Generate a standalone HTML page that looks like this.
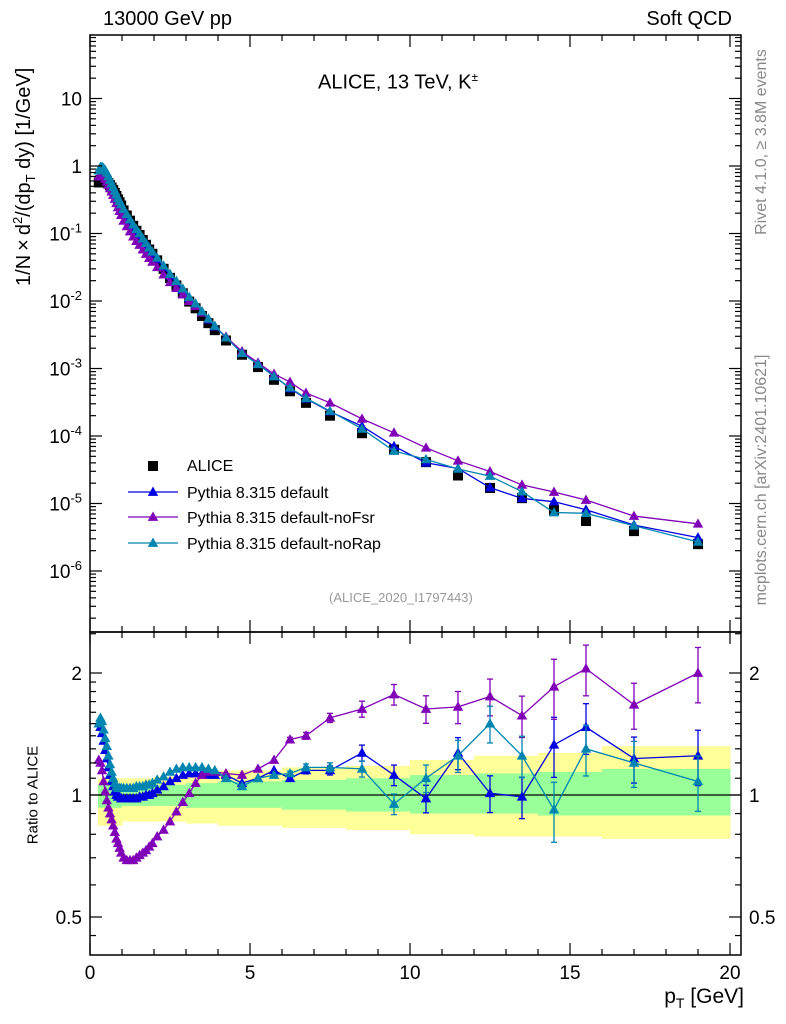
<!DOCTYPE html>
<html><head><meta charset="utf-8"><style>
body{margin:0;background:#fff}
svg{display:block;font-family:"Liberation Sans",sans-serif}
</style></head><body>
<svg id="c" width="786" height="1024" viewBox="0 0 786 1024" xmlns="http://www.w3.org/2000/svg"></svg>
<script>
const pts=[0.275,0.325,0.375,0.425,0.475,0.525,0.575,0.625,0.675,0.725,0.775,0.825,0.875,0.925,0.975,1.05,1.15,1.25,1.35,1.45,1.55,1.65,1.75,1.85,1.95,2.1,2.3,2.5,2.7,2.9,3.1,3.3,3.5,3.7,3.9,4.25,4.75,5.25,5.75,6.25,6.75,7.5,8.5,9.5,10.5,11.5,12.5,13.5,14.5,15.5,17,19];
const alice=[0.57,0.62,0.64,0.64,0.63,0.6,0.56,0.52,0.48,0.44,0.4,0.36,0.32,0.29,0.26,0.22,0.185,0.155,0.13,0.11,0.095,0.08,0.068,0.058,0.05,0.04,0.03,0.022,0.017,0.013,0.0098,0.0078,0.006,0.0047,0.0037,0.0026,0.0016,0.00105,0.00068,0.00046,0.00031,0.0002,0.00011,6.3e-5,4.1e-5,2.6e-5,1.7e-5,1.2e-5,8e-6,5.5e-6,3.9e-6,2.5e-6];
const rDefault=[1.5,1.47,1.42,1.36,1.29,1.23,1.17,1.12,1.08,1.05,1.02,1.0,0.99,0.99,0.98,0.98,0.98,0.98,0.98,0.98,0.99,0.99,1.0,1.0,1.01,1.03,1.05,1.08,1.1,1.12,1.13,1.13,1.13,1.12,1.12,1.12,1.07,1.1,1.15,1.1,1.15,1.15,1.27,1.12,0.98,1.27,1.01,0.99,1.33,1.47,1.23,1.25];
const rNoFsr=[1.22,1.2,1.15,1.08,1.02,0.97,0.93,0.9,0.87,0.84,0.81,0.78,0.76,0.74,0.72,0.7,0.69,0.69,0.69,0.7,0.71,0.72,0.73,0.745,0.76,0.79,0.82,0.86,0.91,0.96,1.01,1.07,1.12,1.14,1.14,1.13,1.12,1.16,1.22,1.37,1.4,1.55,1.63,1.77,1.63,1.65,1.75,1.57,1.85,2.05,1.67,2.0];
const rNoRap=[1.5,1.55,1.52,1.45,1.38,1.32,1.25,1.19,1.14,1.1,1.07,1.05,1.04,1.04,1.04,1.04,1.04,1.04,1.04,1.05,1.05,1.05,1.06,1.06,1.07,1.09,1.11,1.14,1.16,1.17,1.17,1.17,1.17,1.16,1.15,1.1,1.05,1.1,1.12,1.13,1.17,1.17,1.16,0.95,1.1,1.25,1.5,1.25,0.92,1.3,1.2,1.08];
const relErr=[0,0,0,0,0,0,0,0,0,0,0,0,0,0,0,0,0,0,0,0,0,0,0,0,0,0,0,0,0,0,0,0,0,0,0,0,0,0,0,0.01,0.015,0.02,0.035,0.045,0.06,0.07,0.08,0.09,0.13,0.11,0.1,0.12];
const bandEdges=[0.25,1,2,3,4,6,8,10,12,14,16,20];
const greenHi=[1.06,1.05,1.06,1.07,1.08,1.09,1.1,1.12,1.13,1.14,1.16];
const greenLo=[0.93,0.94,0.94,0.93,0.93,0.92,0.91,0.9,0.9,0.89,0.89];
const yellowHi=[1.1,1.1,1.11,1.13,1.15,1.17,1.18,1.22,1.25,1.27,1.32];
const yellowLo=[0.84,0.86,0.86,0.85,0.84,0.83,0.82,0.8,0.79,0.79,0.78];
const xTicks=[0,5,10,15,20];
const yTicks=[10,1,0.1,0.01,0.001,1e-4,1e-5,1e-6];
const yTickLabels=["10","1","10^-1","10^-2","10^-3","10^-4","10^-5","10^-6"];
const rTicks=[0.5,1,2];
const rTickLabels=["0.5","1","2"];

const S=document.getElementById('c');const NS='http://www.w3.org/2000/svg';
function el(t,a,p){const e=document.createElementNS(NS,t);for(const k in a)e.setAttribute(k,a[k]);(p||S).appendChild(e);return e;}
const L=90,R=741,T=35,M=632,B=955;
const X=v=>90+32*v;
const Y=v=>166-67.5*Math.log10(v);
const RY=v=>795-122*Math.log2(v);

const gB=el('g',{});

for(let i=0;i<bandEdges.length-1;i++){
 const x1=X(bandEdges[i]),x2=X(bandEdges[i+1]);
 let r=el('rect',{x:x1,y:RY(yellowHi[i]),width:x2-x1+0.5,height:RY(yellowLo[i])-RY(yellowHi[i]),fill:'#ffff99'},gB);
 
 r=el('rect',{x:x1,y:RY(greenHi[i]),width:x2-x1+0.5,height:RY(greenLo[i])-RY(greenHi[i]),fill:'#99ff99'},gB);
 
}
el('line',{x1:L,x2:R,y1:RY(1),y2:RY(1),stroke:'#000','stroke-width':1.2});

function tri(g,x,y,c,s){el('polygon',{points:`${x},${y-s} ${x-s*0.95},${y+s*0.7} ${x+s*0.95},${y+s*0.7}`,fill:c},g);}
const series=[['pythia-default','#0000e0',rDefault],['pythia-noFsr','#8000b8',rNoFsr],['pythia-noRap','#0085b0',rNoRap]];

const gA=el('g',{});
pts.forEach((p,i)=>{const s=el('rect',{x:X(p)-5,y:Y(alice[i])-5,width:10,height:10,fill:'#000'},gA);});

series.forEach(([n,c,r])=>{
 const g=el('g',{});
 el('polyline',{points:pts.map((p,i)=>X(p)+','+Y(alice[i]*r[i])).join(' '),fill:'none',stroke:c,'stroke-width':1.3},g);
 pts.forEach((p,i)=>tri(g,X(p),Y(alice[i]*r[i]),c,5.5));
 const g2=el('g',{});
 el('polyline',{points:pts.map((p,i)=>X(p)+','+RY(r[i])).join(' '),fill:'none',stroke:c,'stroke-width':1.3},g2);
 pts.forEach((p,i)=>{
  const e=relErr[i]*r[i]*1.3;
  if(e>0){const x=X(p);el('line',{x1:x,x2:x,y1:RY(r[i]+e),y2:RY(r[i]-e),stroke:c,'stroke-width':1.3},g2);
   el('line',{x1:x-3,x2:x+3,y1:RY(r[i]+e),y2:RY(r[i]+e),stroke:c,'stroke-width':1.3},g2);
   el('line',{x1:x-3,x2:x+3,y1:RY(r[i]-e),y2:RY(r[i]-e),stroke:c,'stroke-width':1.3},g2);}
  tri(g2,X(p),RY(r[i]),c,5.5);});
});

el('rect',{x:L,y:T,width:R-L,height:M-T,fill:'none',stroke:'#000','stroke-width':1.5});
el('rect',{x:L,y:M,width:R-L,height:B-M,fill:'none',stroke:'#000','stroke-width':1.5});
for(let v=0;v<=20;v++){const x=X(v),maj=v%5==0,l=maj?12:6;
 [[M,-1],[T,1],[B,-1],[M,1]].forEach(([y,d])=>el('line',{x1:x,x2:x,y1:y,y2:y+d*l,stroke:'#000','stroke-width':1.2}));}
xTicks.forEach(v=>{const t=el('text',{x:X(v),y:B+24,'text-anchor':'middle','font-size':19});t.textContent=v;});
for(let d=-7;d<=1;d++)for(let k=1;k<10;k++){const v=k*Math.pow(10,d),y=Y(v);if(y<T||y>M)continue;const l=k==1?12:6;
 el('line',{x1:L,x2:L+l,y1:y,y2:y,stroke:'#000','stroke-width':1.2});el('line',{x1:R,x2:R-l,y1:y,y2:y,stroke:'#000','stroke-width':1.2});}
yTicks.forEach((v,i)=>{const lab=yTickLabels[i];const t=el('text',{x:L-8,y:Y(v)+7,'text-anchor':'end','font-size':19});
 if(lab.includes('^')){const [b,e]=lab.split('^');t.textContent=b;const ts=el('tspan',{dy:-8,'font-size':13},t);ts.textContent=e;}else t.textContent=lab;
 });
[0.45,0.5,0.6,0.7,0.8,0.9,1,1.1,1.2,1.3,1.4,1.5,1.6,1.7,1.8,1.9,2,2.5].forEach(v=>{const y=RY(v);if(y<M||y>B)return;const l=(v==0.5||v==1||v==2)?12:6;
 el('line',{x1:L,x2:L+l,y1:y,y2:y,stroke:'#000','stroke-width':1.2});el('line',{x1:R,x2:R-l,y1:y,y2:y,stroke:'#000','stroke-width':1.2});});
rTicks.forEach((v,i)=>{let t=el('text',{x:L-8,y:RY(v)+7,'text-anchor':'end','font-size':19});t.textContent=rTickLabels[i];
 t=el('text',{x:R+8,y:RY(v)+7,'font-size':19});t.textContent=rTickLabels[i];});

const lg=el('g',{});
el('rect',{x:148,y:461,width:10,height:10,fill:'#000'},lg);
[['ALICE',null,471],['Pythia 8.315 default','#0000e0',498],['Pythia 8.315 default-noFsr','#8000b8',523],['Pythia 8.315 default-noRap','#0085b0',549]].forEach(([s,c,y])=>{
 if(c){el('line',{x1:128,x2:178,y1:y-6,y2:y-6,stroke:c,'stroke-width':1.3},lg);tri(lg,153,y-6,c,5.5);}
 const t=el('text',{x:187,y:y,'font-size':16},lg);t.textContent=s;});
</script>
<div style="position:absolute;left:0;top:0;width:786px;height:1024px;pointer-events:none;font-family:'Liberation Sans',sans-serif;color:#000">
<div style="position:absolute;left:103px;top:8px;font-size:20px">13000 GeV pp</div>
<div style="position:absolute;right:54px;top:8px;font-size:20px">Soft QCD</div>
<div style="position:absolute;left:318px;top:70px;font-size:20px">ALICE, 13 TeV, K<sup style="font-size:12px">±</sup></div>
<div style="position:absolute;left:329px;top:590px;font-size:13px;color:#999">(ALICE_2020_I1797443)</div>
<div style="position:absolute;left:20px;top:163px;font-size:20px;white-space:nowrap;transform:translate(-50%,0) rotate(-90deg);transform-origin:50% 50%;left:24px;width:0;display:flex;justify-content:center"><span>1/N&thinsp;×&thinsp;d<sup style="font-size:13px">2</sup>/(dp<sub style="font-size:13px">T</sub> dy) [1/GeV]</span></div>
<div style="position:absolute;left:33px;top:795px;font-size:15px;white-space:nowrap;transform:translate(-50%,-50%) rotate(-90deg)">Ratio to ALICE</div>
<div style="position:absolute;right:42px;top:985px;font-size:21px">p<sub style="font-size:14px">T</sub> [GeV]</div>
<div style="position:absolute;left:762px;top:142px;font-size:16px;color:#888;white-space:nowrap;transform:translate(-50%,-50%) rotate(-90deg)">Rivet 4.1.0, ≥ 3.8M events</div>
<div style="position:absolute;left:762px;top:480px;font-size:16px;color:#888;white-space:nowrap;transform:translate(-50%,-50%) rotate(-90deg)">mcplots.cern.ch [arXiv:2401.10621]</div>
</div>
</body></html>
